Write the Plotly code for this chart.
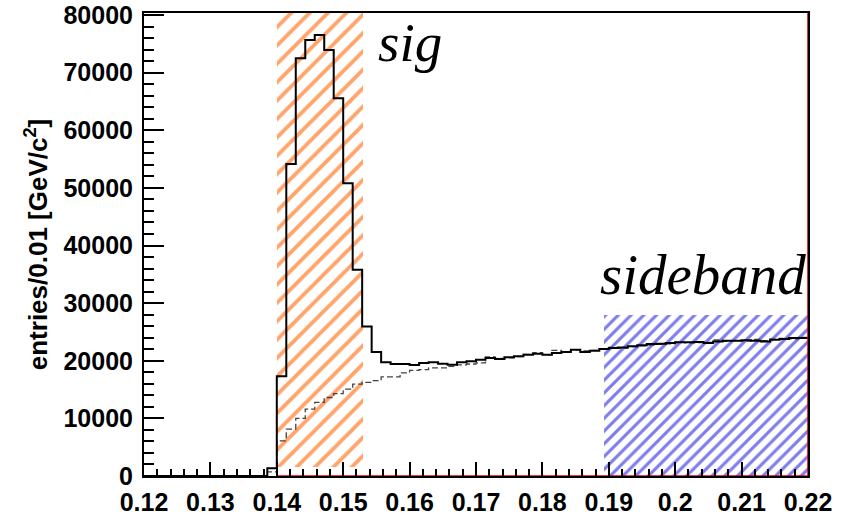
import numpy as np
import plotly.graph_objects as go

# Binning of the mass-difference histogram
X_MIN, X_MAX, N_BINS = 0.12, 0.22, 70
Y_MAX = 80350

# Entries per bin, bins 0..69
data_counts = [
    0, 0, 0, 0, 0, 0, 0, 0, 0, 0, 0, 0, 0,
    1330, 17300, 54160, 72480, 75650, 76520, 73920, 65550, 50810, 35790,
    25960, 21520, 19720, 19440, 19440, 19270, 19620, 19720, 19500, 19320,
    19720, 19900, 20190, 20490, 20310, 20590, 20760, 21060, 21230, 21060,
    21350, 21520, 21920, 21520, 21750, 22040, 22220, 22320, 22500, 22670,
    22910, 22960, 23080, 23190, 23190, 23260, 23080, 23360, 23480, 23480,
    23540, 23480, 23360, 23660, 23780, 23950, 23950,
]

# Background shape per bin, bins 0..69
bkg_counts = [
    0, 0, 0, 0, 0, 0, 0, 0, 0, 0, 0, 0, 0,
    700, 6110, 8140, 9990, 11600, 12760, 13620, 14310, 15060, 15930,
    16260, 16550, 17190, 17190, 17890, 18340, 18460, 18750, 18750, 19030,
    19270, 19440, 19620, 20660, 20400, 20500, 20700, 21100, 21400, 21050,
    21800, 21600, 21900, 21700, 21800, 22000, 22300, 22200, 22450, 22600,
    22700, 22850, 22950, 23250, 23100, 23150, 23200, 23600, 23350, 23500,
    23400, 23700, 23500, 23750, 23900, 23800, 24050,
]

# Signal window and sideband window (x range, y range)
sig_window = [0.14, 0.1530]
sig_yrange = [1500, Y_MAX]
side_window = [0.1893, 0.22]
side_yrange = [0, 28000]

x_tick_vals = [0.12, 0.13, 0.14, 0.15, 0.16, 0.17, 0.18, 0.19, 0.20, 0.21, 0.22]
x_tick_text = ["0.12", "0.13", "0.14", "0.15", "0.16", "0.17", "0.18", "0.19", "0.2", "0.21", "0.22"]
y_tick_vals = [0, 10000, 20000, 30000, 40000, 50000, 60000, 70000, 80000]
y_tick_text = ["0", "10000", "20000", "30000", "40000", "50000", "60000", "70000", "80000"]

edges = np.linspace(X_MIN, X_MAX, N_BINS + 1)


def step_xy(counts):
    return list(edges), list(counts) + [counts[-1]]


fig = go.Figure()

# hatched windows
fig.add_trace(go.Bar(
    x=[(sig_window[0] + sig_window[1]) / 2], y=[sig_yrange[1] - sig_yrange[0]],
    base=[sig_yrange[0]], width=[sig_window[1] - sig_window[0]],
    marker=dict(color="rgba(0,0,0,0)", line=dict(width=0),
                pattern=dict(shape="/", fgcolor="rgba(255,130,50,0.72)", bgcolor="rgba(0,0,0,0)",
                             size=13, solidity=0.3, fillmode="replace")),
    showlegend=False, hoverinfo="skip",
))
fig.add_trace(go.Bar(
    x=[(side_window[0] + side_window[1]) / 2], y=[side_yrange[1] - side_yrange[0]],
    base=[side_yrange[0]], width=[side_window[1] - side_window[0]],
    marker=dict(color="rgba(0,0,0,0)", line=dict(width=0),
                pattern=dict(shape="/", fgcolor="rgba(70,70,230,0.7)", bgcolor="rgba(0,0,0,0)",
                             size=9, solidity=0.35, fillmode="replace")),
    showlegend=False, hoverinfo="skip",
))

# background histogram (dashed)
bx, by = step_xy(bkg_counts)
fig.add_trace(go.Scatter(x=bx, y=by, mode="lines", line=dict(shape="hv", color="#444444", width=1.3, dash="6px,3px"),
                         showlegend=False, hoverinfo="skip"))

# data histogram (solid)
dx, dy = step_xy(data_counts)
fig.add_trace(go.Scatter(x=dx, y=dy, mode="lines", line=dict(shape="hv", color="black", width=2),
                         showlegend=False, hoverinfo="skip"))

# empty reference histogram outline
fig.add_trace(go.Scatter(x=[0.14, 0.22, 0.22], y=[0, 0, Y_MAX], mode="lines",
                         line=dict(color="#e00000", width=1.6), showlegend=False, hoverinfo="skip"))

tick_font = dict(family="Liberation Sans", size=25, color="black", weight="bold")

fig.update_xaxes(
    range=[X_MIN, X_MAX], tickvals=x_tick_vals, ticktext=x_tick_text,
    ticks="inside", ticklen=14, tickwidth=1.5, tickcolor="black",
    minor=dict(dtick=0.002, ticks="inside", ticklen=7, tickwidth=1.5, tickcolor="black"),
    showline=True, linecolor="black", linewidth=2, mirror=True,
    showgrid=False, zeroline=False, tickfont=tick_font, ticklabelstandoff=3,
)
fig.update_yaxes(
    range=[0, Y_MAX], tickvals=y_tick_vals, ticktext=y_tick_text,
    ticks="inside", ticklen=20, tickwidth=1.5, tickcolor="black",
    minor=dict(dtick=2000, ticks="inside", ticklen=10, tickwidth=1.5, tickcolor="black"),
    showline=True, linecolor="black", linewidth=2, mirror=True,
    showgrid=False, zeroline=False, tickfont=tick_font, ticklabelstandoff=4,
    title=dict(text="entries/0.01 [GeV/c<sup>2</sup>]",
               font=dict(family="Liberation Sans", size=26, color="black", weight="bold"),
               standoff=8),
)

fig.add_annotation(x=0.1549, y=75200, xref="x", yref="y", text="sig", showarrow=False,
                   xanchor="left", yanchor="middle",
                   font=dict(family="Liberation Serif", size=55, color="black", style="italic"))
fig.add_annotation(x=0.1884, y=34900, xref="x", yref="y", text="sideband", showarrow=False,
                   xanchor="left", yanchor="middle",
                   font=dict(family="Liberation Serif", size=57, color="black", style="italic"))

fig.update_layout(
    width=845, height=516, barmode="overlay", bargap=0,
    margin=dict(l=144, r=37, t=13, b=40, autoexpand=False),
    paper_bgcolor="white", plot_bgcolor="white",
)

fig.write_html("out.html")
